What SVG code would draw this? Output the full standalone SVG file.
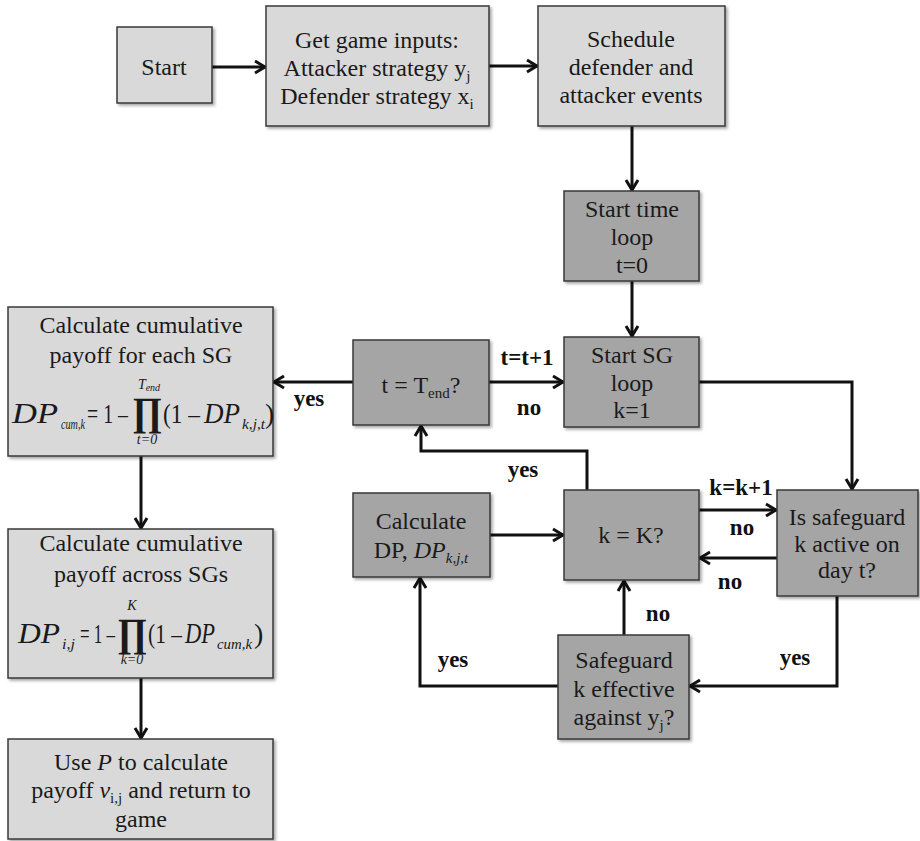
<svg xmlns="http://www.w3.org/2000/svg" width="920" height="841" viewBox="0 0 920 841">
<defs>
<filter id="sh" x="-10%" y="-10%" width="125%" height="125%">
<feDropShadow dx="2" dy="2" stdDeviation="1.5" flood-color="#000" flood-opacity="0.35"/>
</filter>
<marker id="ah" viewBox="0 0 14 16" refX="13" refY="8" markerWidth="14" markerHeight="16" markerUnits="userSpaceOnUse" orient="auto">
<path d="M2,2 L12,8 L2,14" fill="none" stroke="#111" stroke-width="3"/>
</marker>
<style>
.lt{fill:#d9d9d9;stroke:#383838;stroke-width:1.5;filter:url(#sh)}
.dk{fill:#a5a5a5;stroke:#383838;stroke-width:1.5;filter:url(#sh)}
text{font-family:"Liberation Serif","Times New Roman",serif;fill:#1a1a1a}
.t{font-size:24px;text-anchor:middle}
.lb{font-size:23px;font-weight:bold;text-anchor:middle;fill:#111}
.sub{font-size:15px}
.fm{font-size:30px;font-style:italic}
.fr{font-size:28px}
.fs{font-size:15px;font-style:italic}
.fss{font-size:14px;font-style:italic;text-anchor:middle}
.pi{font-size:40px;font-weight:bold}
.c{fill:none;stroke:#111;stroke-width:3;marker-end:url(#ah)}
</style>
</defs>
<rect width="920" height="841" fill="#fff"/>

<g id="connectors">
<path class="c" d="M212,67 H266"/>
<path class="c" d="M489,66 H538"/>
<path class="c" d="M632,126 V191"/>
<path class="c" d="M632,281 V337"/>
<path class="c" d="M489,382 H564"/>
<path class="c" d="M353,382 H273"/>
<path class="c" d="M699,382 H852 V490"/>
<path class="c" d="M587,490 V451 H421 V425"/>
<path class="c" d="M490,535 H564"/>
<path class="c" d="M699,510 H777"/>
<path class="c" d="M777,558 H699"/>
<path class="c" d="M837,596 V686 H689"/>
<path class="c" d="M624,635 V580"/>
<path class="c" d="M558,686 H420 V577"/>
<path class="c" d="M141,456 V529"/>
<path class="c" d="M141,678 V739"/>
<text class="lb" x="527" y="365">t=t+1</text>
<text class="lb" x="529" y="415">no</text>
<text class="lb" x="309" y="406">yes</text>
<text class="lb" x="523" y="477">yes</text>
<text class="lb" x="741" y="495">k=k+1</text>
<text class="lb" x="742" y="535">no</text>
<text class="lb" x="730" y="589">no</text>
<text class="lb" x="658" y="621">no</text>
<text class="lb" x="795" y="665">yes</text>
<text class="lb" x="453" y="667">yes</text>
</g>

<g id="start">
<rect class="lt" x="117" y="27" width="95" height="76"/>
<text class="t" x="164" y="75">Start</text>
</g>

<g id="inputs">
<rect class="lt" x="266" y="6" width="223" height="120"/>
<text class="t" x="377" y="48">Get game inputs:</text>
<text class="t" x="377" y="76">Attacker strategy y<tspan class="sub" dy="5">j</tspan></text>
<text class="t" x="377" y="104">Defender strategy x<tspan class="sub" dy="5">i</tspan></text>
</g>

<g id="schedule">
<rect class="lt" x="538" y="6" width="187" height="120"/>
<text class="t" x="631" y="47">Schedule</text>
<text class="t" x="631" y="75">defender and</text>
<text class="t" x="631" y="103">attacker events</text>
</g>

<g id="timeloop">
<rect class="dk" x="564" y="191" width="135" height="90"/>
<text class="t" x="632" y="217">Start time</text>
<text class="t" x="632" y="245">loop</text>
<text class="t" x="632" y="273">t=0</text>
</g>

<g id="sgloop">
<rect class="dk" x="564" y="337" width="135" height="90"/>
<text class="t" x="632" y="363">Start SG</text>
<text class="t" x="632" y="391">loop</text>
<text class="t" x="632" y="418">k=1</text>
</g>

<g id="tend">
<rect class="dk" x="353" y="340" width="136" height="85"/>
<text class="t" x="421" y="393">t = T<tspan class="sub" dy="5">end</tspan><tspan dy="-5">?</tspan></text>
</g>

<g id="cumsg">
<rect class="lt" x="8" y="307" width="265" height="149"/>
<text class="t" x="141" y="333">Calculate cumulative</text>
<text class="t" x="141" y="363">payoff for each SG</text>
<text class="fm" x="12" y="423" textLength="46" lengthAdjust="spacingAndGlyphs">DP</text>
<text class="fs" x="61" y="429" textLength="24" lengthAdjust="spacingAndGlyphs">cum,k</text>
<text class="fr" x="87" y="423" textLength="41" lengthAdjust="spacingAndGlyphs">= 1 –</text>
<text class="pi" x="132" y="425" textLength="30" lengthAdjust="spacingAndGlyphs">∏</text>
<text class="fss" x="149" y="389">T<tspan font-size="10" dy="2">end</tspan></text>
<text class="fss" x="147" y="444">t=0</text>
<text class="fr" x="163" y="423" textLength="37" lengthAdjust="spacingAndGlyphs">(1 –</text>
<text class="fm" x="204" y="423" textLength="36" lengthAdjust="spacingAndGlyphs">DP</text>
<text class="fs" x="242" y="429" textLength="23" lengthAdjust="spacingAndGlyphs">k,j,t</text>
<text class="fr" x="265" y="423">)</text>
</g>

<g id="cumall">
<rect class="lt" x="8" y="529" width="265" height="149"/>
<text class="t" x="141" y="551">Calculate cumulative</text>
<text class="t" x="141" y="582">payoff across SGs</text>
<text class="fm" x="18" y="643" textLength="42" lengthAdjust="spacingAndGlyphs">DP</text>
<text class="fs" x="62" y="649" textLength="13" lengthAdjust="spacingAndGlyphs">i,j</text>
<text class="fr" x="80" y="643" textLength="35" lengthAdjust="spacingAndGlyphs">= 1 –</text>
<text class="pi" x="117" y="646" textLength="30" lengthAdjust="spacingAndGlyphs">∏</text>
<text class="fss" x="132" y="610">K</text>
<text class="fss" x="132" y="664">k=0</text>
<text class="fr" x="148" y="643" textLength="34" lengthAdjust="spacingAndGlyphs">(1 –</text>
<text class="fm" x="185" y="643" textLength="30" lengthAdjust="spacingAndGlyphs">DP</text>
<text class="fs" x="217" y="649" textLength="35" lengthAdjust="spacingAndGlyphs">cum,k</text>
<text class="fr" x="254" y="643">)</text>
</g>

<g id="usep">
<rect class="lt" x="8" y="739" width="265" height="100"/>
<text class="t" x="141" y="770">Use <tspan font-style="italic">P</tspan> to calculate</text>
<text class="t" x="141" y="798">payoff <tspan font-style="italic">v</tspan><tspan class="sub" dy="5">i,j</tspan><tspan dy="-5"> and return to</tspan></text>
<text class="t" x="141" y="827">game</text>
</g>

<g id="calcdp">
<rect class="dk" x="353" y="493" width="137" height="84"/>
<text class="t" x="421" y="529">Calculate</text>
<text class="t" x="421" y="558">DP, <tspan font-style="italic">DP</tspan><tspan class="sub" font-style="italic" dy="5">k,j,t</tspan></text>
</g>

<g id="kK">
<rect class="dk" x="564" y="490" width="135" height="90"/>
<text class="t" x="631" y="543">k = K?</text>
</g>

<g id="active">
<rect class="dk" x="777" y="490" width="141" height="106"/>
<text class="t" x="847" y="525">Is safeguard</text>
<text class="t" x="847" y="552">k active on</text>
<text class="t" x="847" y="578">day t?</text>
</g>

<g id="effective">
<rect class="dk" x="558" y="635" width="131" height="104"/>
<text class="t" x="624" y="668">Safeguard</text>
<text class="t" x="624" y="697">k effective</text>
<text class="t" x="624" y="725">against y<tspan class="sub" dy="5">j</tspan><tspan dy="-5">?</tspan></text>
</g>
</svg>
